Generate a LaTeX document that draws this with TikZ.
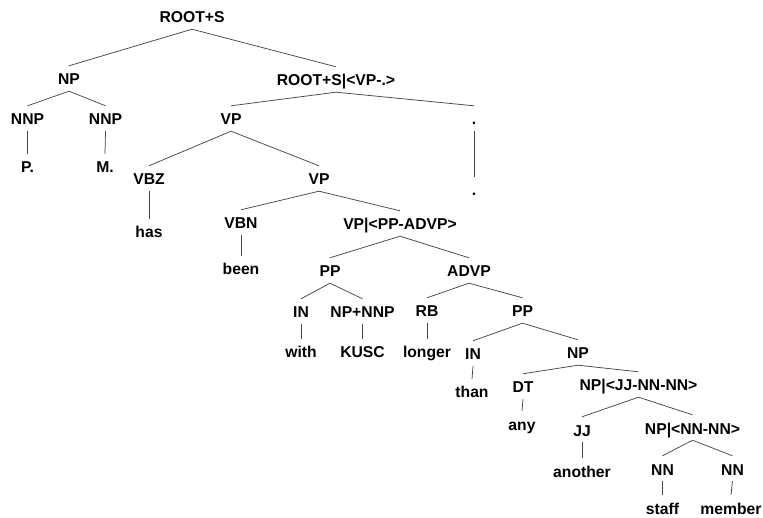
\documentclass[tikz,border=0pt]{standalone}
\usepackage{fontspec}
\setmainfont{Liberation Sans}
\begin{document}
\begin{tikzpicture}[x=1pt,y=-1pt,
  lbl/.style={font=\fontsize{15.7}{18}\selectfont\bfseries, anchor=base, text height=13pt, text depth=0pt, inner xsep=0pt, inner ysep=6pt, text=black},
  edge/.style={draw=black!72, line width=0.75pt}]
\fill[white] (0,0) rectangle (763,518);
\useasboundingbox (0,0) rectangle (763,518);
\node[lbl] (root) at (192,23) {ROOT+S};
\node[lbl] (np) at (69,85) {NP};
\node[lbl] (rs) at (336,86) {ROOT+S|<VP-.>};
\node[lbl] (nnp1) at (27.5,125) {NNP};
\node[lbl] (nnp2) at (105.5,125) {NNP};
\node[lbl] (vp1) at (231,125) {VP};
\node[lbl] (dot1) at (474,125) {.};
\node[lbl] (p) at (27.5,173) {P.};
\node[lbl] (m) at (105,173) {M.};
\node[lbl] (vbz) at (149,185) {VBZ};
\node[lbl] (vp2) at (319,185) {VP};
\node[lbl] (dot2) at (474,196) {.};
\node[lbl] (has) at (149,238) {has};
\node[lbl] (vbn) at (241,229) {VBN};
\node[lbl] (vppp) at (400,230) {VP|<PP-ADVP>};
\node[lbl] (been) at (241,275) {been};
\node[lbl] (pp1) at (330,277) {PP};
\node[lbl] (advp) at (469,277) {ADVP};
\node[lbl] (in1) at (301,318) {IN};
\node[lbl] (npnnp) at (362.5,318) {NP+NNP};
\node[lbl] (rb) at (427,317) {RB};
\node[lbl] (pp2) at (522.5,317) {PP};
\node[lbl] (with) at (301,358) {with};
\node[lbl] (kusc) at (362.5,358) {KUSC};
\node[lbl] (longer) at (427,358) {longer};
\node[lbl] (in2) at (473,360) {IN};
\node[lbl] (np2) at (578,359) {NP};
\node[lbl] (than) at (472,398) {than};
\node[lbl] (dt) at (523,393) {DT};
\node[lbl] (npjj) at (638.5,391) {NP|<JJ-NN-NN>};
\node[lbl] (any) at (522,430) {any};
\node[lbl] (jj) at (582,436) {JJ};
\node[lbl] (npnn) at (692.5,434) {NP|<NN-NN>};
\node[lbl] (another) at (582,477) {another};
\node[lbl] (nn1) at (662.5,475) {NN};
\node[lbl] (nn2) at (732.5,475) {NN};
\node[lbl] (staff) at (662.5,514) {staff};
\node[lbl] (member) at (731,514) {member};
\foreach \a/\b in {root/np, root/rs, np/nnp1, np/nnp2, nnp1/p, nnp2/m,
  rs/vp1, rs/dot1, dot1/dot2, vp1/vbz, vp1/vp2, vbz/has, vp2/vbn, vp2/vppp,
  vbn/been, vppp/pp1, vppp/advp, pp1/in1, pp1/npnnp, in1/with, npnnp/kusc,
  advp/rb, advp/pp2, rb/longer, pp2/in2, pp2/np2, in2/than, np2/dt, np2/npjj,
  dt/any, npjj/jj, npjj/npnn, jj/another, npnn/nn1, npnn/nn2, nn1/staff, nn2/member}
  \draw[edge] (\a.south) -- (\b.north);
\end{tikzpicture}
\end{document}
